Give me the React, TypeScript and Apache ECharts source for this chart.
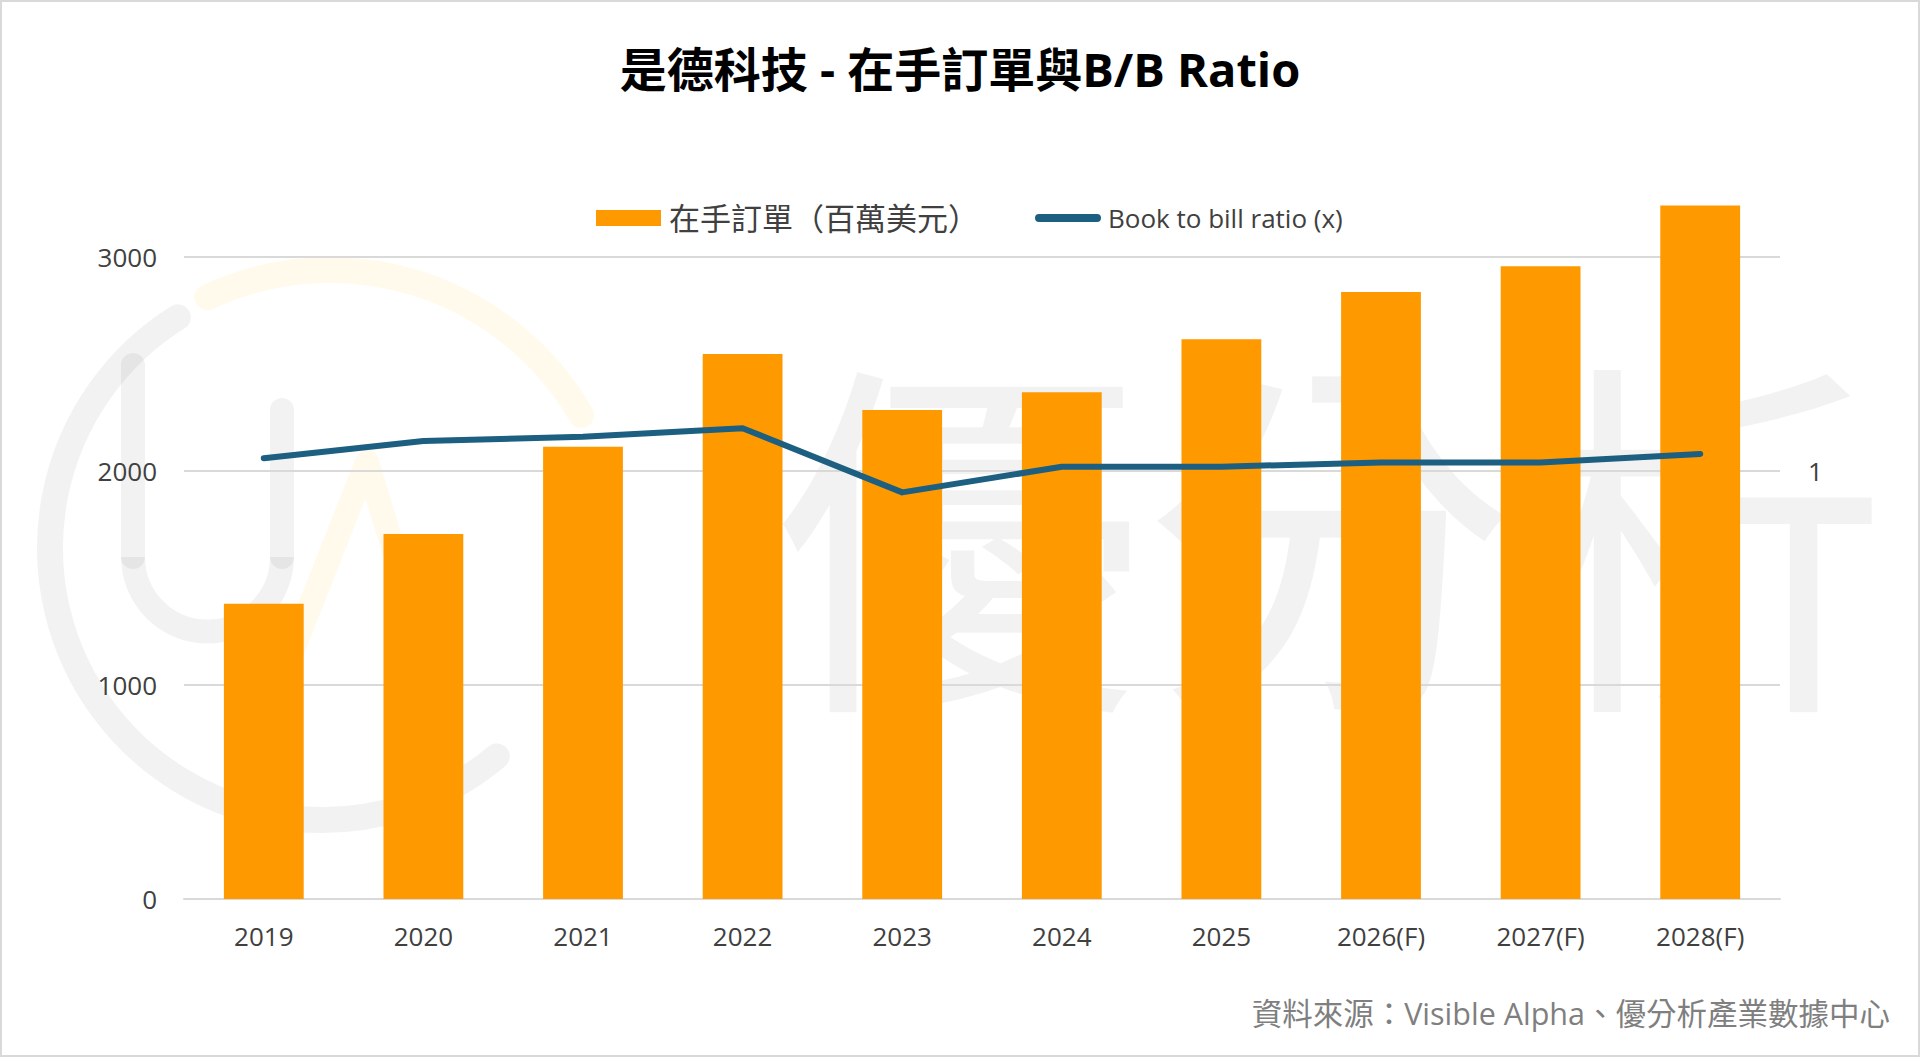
import React, { useEffect, useRef } from "react";
import * as echarts from "echarts";

const categories = ["2019", "2020", "2021", "2022", "2023", "2024", "2025", "2026(F)", "2027(F)", "2028(F)"];
const backlog = [1380, 1706, 2113, 2547, 2285, 2368, 2616, 2837, 2957, 3241];
const bbRatio = [1.03, 1.07, 1.08, 1.1, 0.95, 1.01, 1.01, 1.02, 1.02, 1.04];
const leftTicks = { min: 0, max: 3500, interval: 1000 };
const rightTicks = { min: 0, max: 1.75, interval: 1 };

const barName = "在手訂單（百萬美元）";
const lineName = "Book to bill ratio (x)";
const titleText = "是德科技 - 在手訂單與B/B Ratio";
const sourceText = "資料來源：Visible Alpha、優分析產業數據中心";
const watermarkText = "優分析";

const FONT = "'Open Sans', 'Noto Sans CJK TC', sans-serif";
const ORANGE = "#ff9900";
const BLUE = "#1d5f80";
const WM = "rgba(0,0,0,0.05)";

export default function App() {
  const ref = useRef<HTMLDivElement>(null);
  useEffect(() => {
    if (!ref.current) return;
    const chart = echarts.init(ref.current, undefined, { renderer: "svg" });
    const deg = Math.PI / 180;
    chart.setOption({
      animation: false,
      backgroundColor: "#ffffff",
      textStyle: { fontFamily: FONT },
      title: {
        text: titleText,
        left: "center",
        top: 40,
        textStyle: { fontFamily: FONT, fontSize: 47, fontWeight: "bold", color: "#000000" },
      },
      legend: [
        {
          data: [barName],
          left: 591,
          top: 197,
          itemWidth: 65,
          itemHeight: 16,
          icon: "rect",
          textStyle: { fontFamily: FONT, fontSize: 31, color: "#404040", lineHeight: 32, padding: [0, 0, 0, 3] },
        },
        {
          data: [lineName],
          left: 1030,
          top: 197,
          itemWidth: 66,
          itemHeight: 8,
          icon: "path://M4,0 H62 A4,4 0 0 1 62,8 H4 A4,4 0 0 1 4,0 Z",
          textStyle: { fontFamily: FONT, fontSize: 26, color: "#404040", lineHeight: 32, padding: [0, 0, 0, 2] },
        },
      ],
      grid: { left: 184, right: 140, top: 150, bottom: 158, containLabel: false },
      xAxis: {
        type: "category",
        data: categories,
        axisLine: { show: true, lineStyle: { color: "#d9d9d9", width: 2 } },
        axisTick: { show: false },
        axisLabel: { fontFamily: FONT, fontSize: 26, color: "#404040", margin: 24 },
        splitLine: { show: false },
      },
      yAxis: [
        {
          type: "value",
          min: leftTicks.min,
          max: leftTicks.max,
          interval: leftTicks.interval,
          axisLine: { show: false },
          axisTick: { show: false },
          axisLabel: {
            fontFamily: FONT,
            fontSize: 26,
            color: "#404040",
            margin: 27,
            showMaxLabel: false,
            formatter: (v: number) => String(v),
          },
          splitLine: { show: true, showMaxLine: false, lineStyle: { color: "#d9d9d9", width: 2 } },
        },
        {
          type: "value",
          position: "right",
          min: rightTicks.min,
          max: rightTicks.max,
          interval: rightTicks.interval,
          axisLine: { show: false },
          axisTick: { show: false },
          axisLabel: {
            fontFamily: FONT,
            fontSize: 26,
            color: "#404040",
            margin: 28,
            showMinLabel: false,
            showMaxLabel: false,
            formatter: (v: number) => String(v),
          },
          splitLine: { show: false },
        },
      ],
      series: [
        {
          name: barName,
          type: "bar",
          data: backlog,
          barWidth: "50%",
          itemStyle: { color: ORANGE },
          z: 2,
        },
        {
          name: lineName,
          type: "line",
          yAxisIndex: 1,
          data: bbRatio,
          symbol: "none",
          itemStyle: { color: BLUE },
          lineStyle: { color: BLUE, width: 6, cap: "round", join: "round" },
          z: 3,
        },
      ],
      graphic: [
        {
          type: "text",
          right: 30,
          top: 998,
          style: { text: sourceText, font: `30.5px ${FONT}`, fill: "#7f7f7f" },
        },
        {
          type: "rect",
          shape: { x: 1, y: 1, width: 1918, height: 1055 },
          style: { fill: "none", stroke: "#d9d9d9", lineWidth: 2 },
          z: 1,
        },
        {
          type: "group",
          z: 100,
          silent: true,
          children: [
            {
              type: "text",
              x: 772,
              y: 520,
              style: {
                text: watermarkText,
                font: `372px 'Noto Sans CJK TC', sans-serif`,
                fill: WM,
                verticalAlign: "middle",
                align: "left",
              },
            },
            {
              type: "arc",
              shape: { cx: 322, cy: 548, r: 272, startAngle: 50 * deg, endAngle: 238 * deg, clockwise: true },
              style: { stroke: WM, lineWidth: 26, fill: "none", lineCap: "round" },
            },
            {
              type: "arc",
              shape: { cx: 330, cy: 560, r: 290, startAngle: 245 * deg, endAngle: 330 * deg, clockwise: true },
              style: { stroke: "rgba(255,190,0,0.08)", lineWidth: 26, fill: "none", lineCap: "round" },
            },
            {
              type: "polyline",
              shape: { points: [[133, 365], [133, 557]] },
              style: { stroke: WM, lineWidth: 24, lineCap: "round", fill: "none" },
            },
            {
              type: "arc",
              shape: { cx: 207.5, cy: 557, r: 74.5, startAngle: 0, endAngle: Math.PI, clockwise: true },
              style: { stroke: WM, lineWidth: 24, fill: "none" },
            },
            {
              type: "polyline",
              shape: { points: [[282, 557], [282, 410]] },
              style: { stroke: WM, lineWidth: 24, lineCap: "round", fill: "none" },
            },
            {
              type: "polyline",
              shape: { points: [[288, 662], [367, 462], [448, 730]] },
              style: { stroke: "rgba(255,190,0,0.08)", lineWidth: 24, lineCap: "round", lineJoin: "round", fill: "none" },
            },
          ],
        },
      ],
    });
    return () => chart.dispose();
  }, []);
  return (
    <div
      ref={ref}
      style={{ position: "absolute", left: 0, top: 0, width: 1920, height: 1057 }}
    />
  );
}
